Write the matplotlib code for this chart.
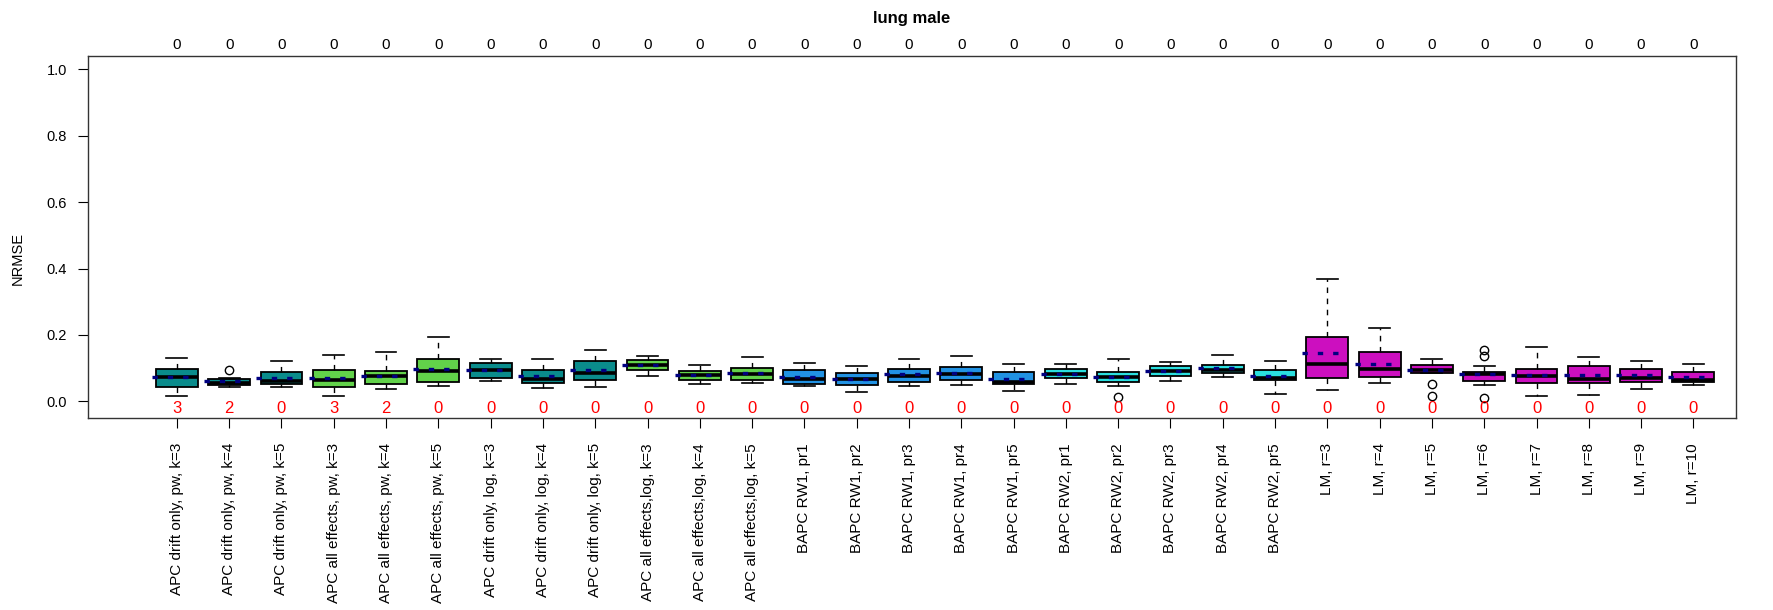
import numpy as np
import matplotlib.pyplot as plt

plt.rcParams['font.family'] = ['Liberation Sans', 'DejaVu Sans']

methods = [
    "APC drift only, pw, k=3", "APC drift only, pw, k=4", "APC drift only, pw, k=5",
    "APC all effects, pw, k=3", "APC all effects, pw, k=4", "APC all effects, pw, k=5",
    "APC drift only, log, k=3", "APC drift only, log, k=4", "APC drift only, log, k=5",
    "APC all effects,log, k=3", "APC all effects,log, k=4", "APC all effects,log, k=5",
    "BAPC RW1, pr1", "BAPC RW1, pr2", "BAPC RW1, pr3", "BAPC RW1, pr4", "BAPC RW1, pr5",
    "BAPC RW2, pr1", "BAPC RW2, pr2", "BAPC RW2, pr3", "BAPC RW2, pr4", "BAPC RW2, pr5",
    "LM, r=3", "LM, r=4", "LM, r=5", "LM, r=6", "LM, r=7", "LM, r=8", "LM, r=9", "LM, r=10",
]

# five-number summaries and means of NRMSE per method
whislo = [0.016, 0.042, 0.043, 0.015, 0.038, 0.046, 0.061, 0.040, 0.043, 0.076,
          0.053, 0.054, 0.045, 0.027, 0.046, 0.049, 0.032, 0.052, 0.047, 0.062,
          0.074, 0.023, 0.033, 0.054, 0.084, 0.049, 0.016, 0.018, 0.038, 0.049]
q1 = [0.044, 0.049, 0.052, 0.044, 0.053, 0.058, 0.071, 0.055, 0.064, 0.096,
      0.064, 0.065, 0.052, 0.049, 0.059, 0.064, 0.052, 0.069, 0.059, 0.077,
      0.085, 0.064, 0.070, 0.074, 0.086, 0.061, 0.055, 0.054, 0.058, 0.058]
median = [0.072, 0.056, 0.060, 0.065, 0.075, 0.092, 0.093, 0.067, 0.084, 0.109,
          0.078, 0.083, 0.066, 0.068, 0.075, 0.082, 0.059, 0.082, 0.072, 0.091,
          0.095, 0.071, 0.114, 0.097, 0.096, 0.081, 0.075, 0.066, 0.070, 0.065]
q3 = [0.097, 0.067, 0.087, 0.096, 0.091, 0.128, 0.115, 0.093, 0.123, 0.124,
      0.090, 0.100, 0.093, 0.084, 0.099, 0.104, 0.087, 0.098, 0.087, 0.106,
      0.111, 0.095, 0.194, 0.149, 0.109, 0.087, 0.098, 0.107, 0.098, 0.089]
whishi = [0.131, 0.069, 0.121, 0.141, 0.148, 0.193, 0.129, 0.127, 0.156, 0.138,
          0.109, 0.133, 0.117, 0.108, 0.128, 0.136, 0.114, 0.114, 0.127, 0.119,
          0.140, 0.122, 0.369, 0.220, 0.129, 0.108, 0.163, 0.135, 0.122, 0.112]
means = [0.072, 0.062, 0.070, 0.070, 0.076, 0.097, 0.094, 0.075, 0.095, 0.110,
         0.078, 0.084, 0.074, 0.068, 0.081, 0.084, 0.068, 0.083, 0.073, 0.092,
         0.100, 0.077, 0.145, 0.112, 0.093, 0.081, 0.080, 0.080, 0.078, 0.073]
outliers = [[], [0.093], [], [], [], [], [], [], [], [],
            [], [], [], [], [], [], [], [], [0.014], [],
            [], [], [], [], [0.051, 0.017], [0.156, 0.138, 0.010], [], [], [], []]

# failed fits (bottom, red) and missing results (top)
n_failed = [3, 2, 0, 3, 2, 0, 0, 0, 0, 0, 0, 0, 0, 0, 0,
            0, 0, 0, 0, 0, 0, 0, 0, 0, 0, 0, 0, 0, 0, 0]
n_missing = [0] * 30

group_colors = {"apc_drift": "#0A8C8C", "apc_all": "#62D24A",
                "rw1": "#2192E3", "rw2": "#2ADFDF", "lm": "#CC0FBF"}
groups = (["apc_drift"] * 3 + ["apc_all"] * 3 + ["apc_drift"] * 3 + ["apc_all"] * 3
          + ["rw1"] * 5 + ["rw2"] * 5 + ["lm"] * 8)

pos = np.arange(1, len(methods) + 1)

stats = []
for i in range(len(methods)):
    stats.append(dict(whislo=whislo[i], q1=q1[i], med=median[i], q3=q3[i],
                      whishi=whishi[i], fliers=outliers[i], mean=means[i]))

fig = plt.figure(figsize=(17.73, 6.10), dpi=100)
ax = fig.add_axes([0.0496, 0.3148, 0.9294, 0.5932])

bp = ax.bxp(stats, positions=pos, widths=0.8, patch_artist=True, showfliers=True,
            boxprops=dict(edgecolor='black', linewidth=1.3),
            medianprops=dict(color='black', linewidth=2.6),
            whiskerprops=dict(color='black', linewidth=1, linestyle=(0, (4, 4))),
            capprops=dict(color='black', linewidth=1.2),
            capwidths=0.4,
            flierprops=dict(marker='o', markerfacecolor='none', markeredgecolor='black',
                            markersize=6, markeredgewidth=1))
for patch, g in zip(bp['boxes'], groups):
    patch.set_facecolor(group_colors[g])

# mean as a dashed navy segment across each box
for x, m in zip(pos, means):
    ax.plot([x - 0.48, x + 0.38], [m, m], color='#000080', linewidth=2.4,
            linestyle=(0, (1.6, 3.0)), solid_capstyle='butt', zorder=4)

for x, n in zip(pos, n_failed):
    ax.text(x, -0.02, str(n), color='red', fontsize=12, ha='center', va='center')

ax.set_xlim(-0.70, 30.81)
ax.set_ylim(-0.05, 1.04)
ax.set_yticks([0.0, 0.2, 0.4, 0.6, 0.8, 1.0])
ax.set_yticklabels(["0.0", "0.2", "0.4", "0.6", "0.8", "1.0"])
ax.set_xticks(pos)
ax.set_xticklabels(methods, rotation=90, fontsize=11)
ax.tick_params(axis='y', labelsize=10.5, length=7, pad=8)
ax.tick_params(axis='x', length=7, pad=11)
ax.set_ylabel("NRMSE", fontsize=10.5, labelpad=14)
ax.yaxis.set_label_coords(-0.0385, 0.44)

top = ax.secondary_xaxis('top')
top.set_xticks(pos)
top.set_xticklabels([str(n) for n in n_missing], fontsize=11)
top.tick_params(length=0, pad=3)

for s in ax.spines.values():
    s.set_color('#333333')
    s.set_linewidth(1)
top.spines['top'].set_visible(False)

ax.set_title("lung male", fontsize=12, fontweight='bold', pad=24)

fig.savefig("out.png", dpi=100)
